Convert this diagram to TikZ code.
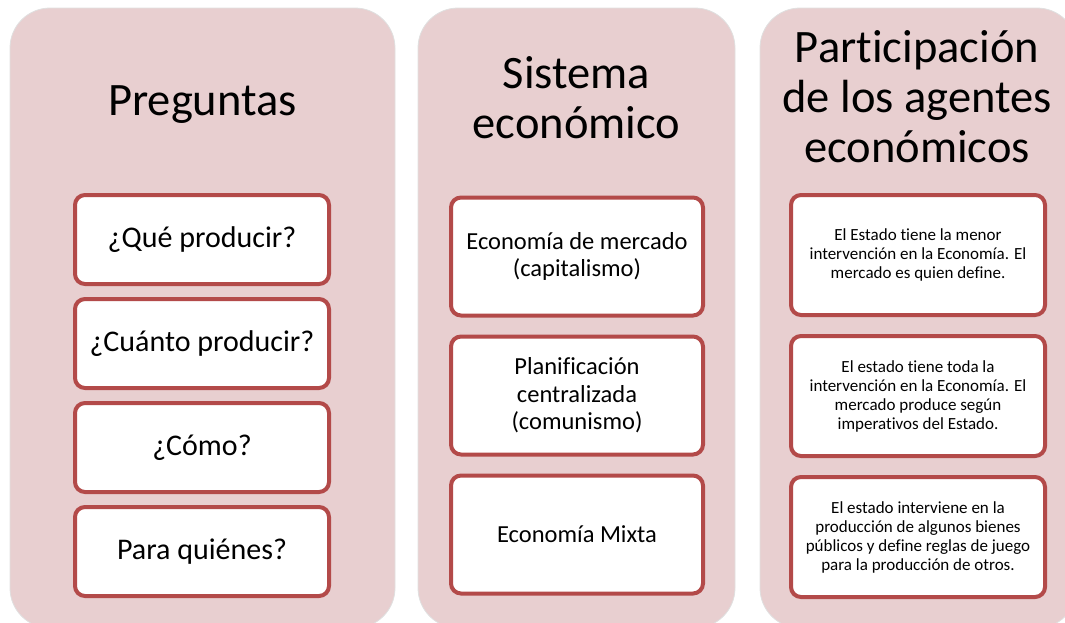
\documentclass[tikz,border=0pt]{standalone}
\usepackage{fontspec}
\setmainfont{Carlito}[Ligatures=NoCommon]
\usetikzlibrary{positioning}
\definecolor{rosa}{HTML}{E8CFD0}
\definecolor{borde}{HTML}{B34A49}

\begin{document}
\begin{tikzpicture}[x=1pt, y=-1pt,
    panel/.style={fill=rosa, draw=black!12, line width=0.8pt, rounded corners=40pt},
    titulo/.style={align=center, anchor=base, font=\fontsize{46.5}{50}\selectfont},
    caja/.style={draw=borde, fill=white, line width=4pt, rounded corners=10pt,
                 align=center, inner sep=1pt},
    preg/.style={caja, minimum width=254pt, minimum height=89pt,
                 font=\fontsize{30}{36}\selectfont},
    sist/.style={caja, minimum width=252pt, minimum height=118pt,
                 font=\fontsize{24.5}{27.5}\selectfont},
    part/.style={caja, minimum width=254pt, minimum height=120pt,
                 font=\fontsize{17}{19}\selectfont}]
  \clip (0,0) rectangle (1065,622);

  % columnas
  \draw[panel] (10,8) rectangle (395,628);
  \draw[panel] (418,8) rectangle (735,628);
  \draw[panel] (760,8) rectangle (1077,628);

  % titulos (base = ultima linea)
  \node[titulo] (tpreg) at (202.5,115) {Preguntas};
  \node[titulo] (tsist) at (576.5,138) {Sistema\\econ\'omico};
  \node[titulo] (tpart) at (917,162) {Participaci\'on\\de los agentes\\econ\'omicos};

  % preguntas
  \node[preg] (que) at (202,239.5) {¿Qué producir?};
  \node[preg, below=11pt of que] (cuanto) {¿Cuánto producir?};
  \node[preg, below=11pt of cuanto] (como) {¿Cómo?};
  \node[preg, below=11pt of como] (quienes) {Para quiénes?};

  % sistemas
  \node[sist] (mercado) at (577,256.5) {Economía de mercado\\(capitalismo)};
  \node[sist, below=17pt of mercado] (plan) {Planificación\\centralizada\\(comunismo)};
  \node[sist, below=17pt of plan] (mixta) {Economía Mixta};

  % participacion
  \node[part] (menor) at (918,255) {El Estado tiene la menor\\intervención en la Economía. El\\mercado es quien define.};
  \node[part, below=17pt of menor] (toda) {El estado tiene toda la\\intervención en la Economía. El\\mercado produce según\\imperativos del Estado.};
  \node[part, below=17pt of toda] (interv) {El estado interviene en la\\producción de algunos bienes\\públicos y define reglas de juego\\para la producción de otros.};
\end{tikzpicture}
\end{document}
